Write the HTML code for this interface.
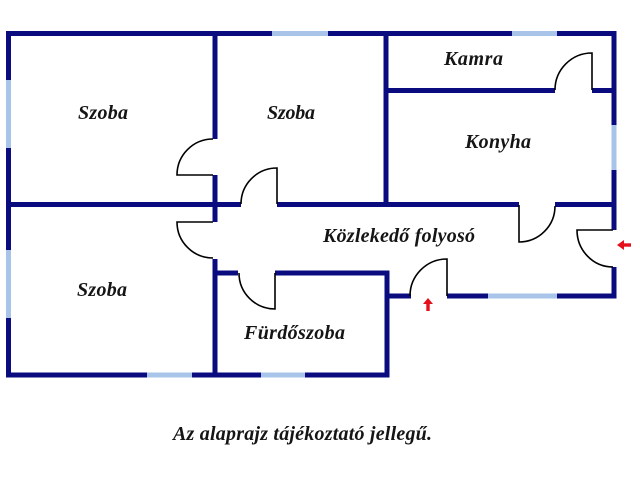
<!DOCTYPE html>
<html>
<head>
<meta charset="utf-8">
<style>
html,body{margin:0;padding:0;background:#fff;}
svg{display:block;}
text{font-family:"Liberation Serif",serif;font-weight:bold;font-style:italic;font-size:20px;fill:#151515;}
</style>
</head>
<body>
<svg width="640" height="480" viewBox="0 0 640 480" xmlns="http://www.w3.org/2000/svg">
<rect width="640" height="480" fill="#fff"/>
<g stroke="#0b0b80" stroke-width="5" stroke-linecap="butt" fill="none">
  <!-- outer top -->
  <line x1="6" y1="33.5" x2="616.5" y2="33.5"/>
  <!-- outer left -->
  <line x1="8.5" y1="31" x2="8.5" y2="377.5"/>
  <!-- outer bottom -->
  <line x1="6" y1="375" x2="389.5" y2="375"/>
  <!-- bathroom right -->
  <line x1="387" y1="270.5" x2="387" y2="377.5"/>
  <!-- bathroom top -->
  <line x1="212.5" y1="273" x2="238" y2="273"/>
  <line x1="275" y1="273" x2="389.5" y2="273"/>
  <!-- corridor bottom -->
  <line x1="384.5" y1="296" x2="411" y2="296"/>
  <line x1="447" y1="296" x2="616.5" y2="296"/>
  <!-- right wall -->
  <line x1="614" y1="31" x2="614" y2="230"/>
  <line x1="614" y1="267" x2="614" y2="298.5"/>
  <!-- interior vertical x=215 -->
  <line x1="215" y1="31" x2="215" y2="139"/>
  <line x1="215" y1="175" x2="215" y2="222"/>
  <line x1="215" y1="259" x2="215" y2="377.5"/>
  <!-- interior vertical x=386 -->
  <line x1="386" y1="31" x2="386" y2="207"/>
  <!-- mid horizontal -->
  <line x1="6" y1="204.5" x2="241" y2="204.5"/>
  <line x1="277" y1="204.5" x2="519" y2="204.5"/>
  <line x1="555" y1="204.5" x2="616.5" y2="204.5"/>
  <!-- kamra bottom -->
  <line x1="383.5" y1="90.5" x2="555" y2="90.5"/>
  <line x1="592" y1="90.5" x2="616.5" y2="90.5"/>
</g>
<!-- windows -->
<g stroke="#a8c4e8" stroke-width="5" fill="none">
  <line x1="272" y1="33.5" x2="328" y2="33.5"/>
  <line x1="512" y1="33.5" x2="557" y2="33.5"/>
  <line x1="8.5" y1="80" x2="8.5" y2="148"/>
  <line x1="8.5" y1="250" x2="8.5" y2="318"/>
  <line x1="147" y1="375" x2="192" y2="375"/>
  <line x1="261" y1="375" x2="305" y2="375"/>
  <line x1="488" y1="296" x2="557" y2="296"/>
  <line x1="614" y1="125" x2="614" y2="170"/>
</g>
<!-- doors -->
<g stroke="#000" stroke-width="1.6" fill="none">
  <path d="M213,139 A36,36 0 0 0 177,175 L213,175"/>
  <path d="M277,204 L277,168 A36,36 0 0 0 241,204"/>
  <path d="M213,222 L177,222 A36,36 0 0 0 213,258"/>
  <path d="M275,273 L275,309 A36,36 0 0 1 239,273"/>
  <path d="M592,90 L592,53 A37,37 0 0 0 555,90"/>
  <path d="M519,205 L519,242 A36,36 0 0 0 555,206"/>
  <path d="M447,296 L447,259 A37,37 0 0 0 410,296"/>
  <path d="M613,230 L577,230 A36,37 0 0 0 613,267"/>
</g>
<!-- red arrows -->
<g fill="#e4101c">
  <polygon points="617,245 624,240 624,250"/>
  <rect x="623" y="243.3" width="8" height="3.4"/>
  <polygon points="428,298 423,304 433,304"/>
  <rect x="426.3" y="303" width="3.4" height="8"/>
</g>
<!-- labels -->
<text x="78" y="119" textLength="50">Szoba</text>
<text x="267" y="119" textLength="48">Szoba</text>
<text x="444" y="65" textLength="59">Kamra</text>
<text x="465" y="148" textLength="66">Konyha</text>
<text x="323" y="242" textLength="152">Közlekedő folyosó</text>
<text x="77" y="296" textLength="50">Szoba</text>
<text x="244" y="339" textLength="101">Fürdőszoba</text>
<text x="173" y="440" textLength="259">Az alaprajz tájékoztató jellegű.</text>
</svg>
</body>
</html>
